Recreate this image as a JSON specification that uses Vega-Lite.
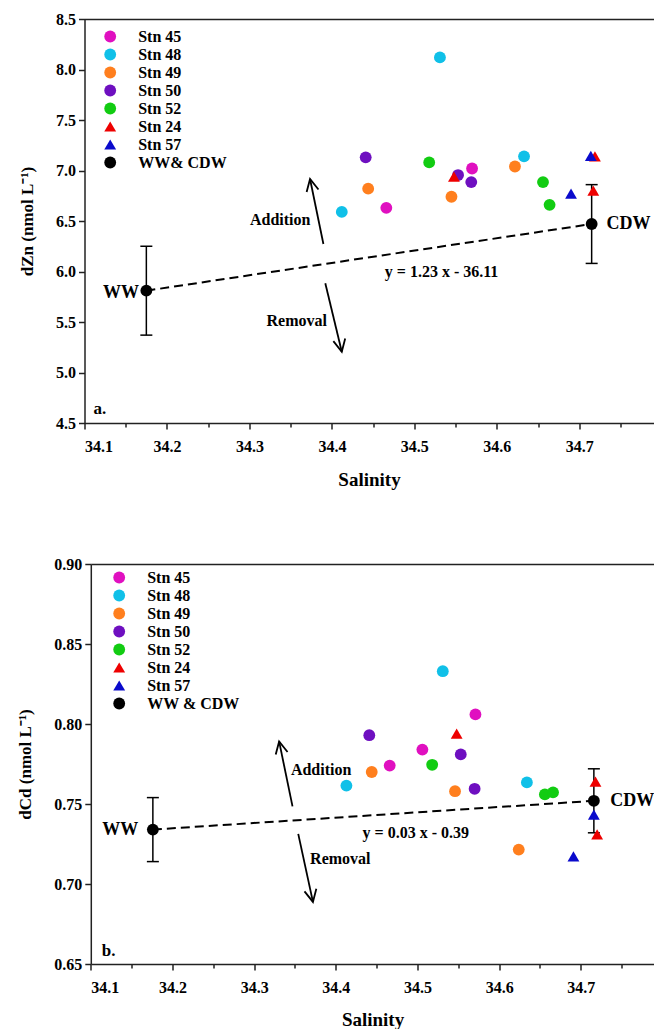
{
  "$schema": "https://vega.github.io/schema/vega-lite/v6.json",
  "background": "white",
  "padding": {"left": 15.5, "top": 11, "right": 0, "bottom": 0},
  "spacing": 67,
  "datasets": {
    "zn": [
      {"stn": "Stn 45", "sal": 34.466, "val": 6.63},
      {"stn": "Stn 45", "sal": 34.570, "val": 7.02},
      {"stn": "Stn 48", "sal": 34.531, "val": 8.12},
      {"stn": "Stn 48", "sal": 34.412, "val": 6.59},
      {"stn": "Stn 48", "sal": 34.633, "val": 7.14},
      {"stn": "Stn 49", "sal": 34.444, "val": 6.82},
      {"stn": "Stn 49", "sal": 34.545, "val": 6.74},
      {"stn": "Stn 49", "sal": 34.622, "val": 7.04},
      {"stn": "Stn 50", "sal": 34.441, "val": 7.13},
      {"stn": "Stn 50", "sal": 34.553, "val": 6.955},
      {"stn": "Stn 50", "sal": 34.569, "val": 6.885},
      {"stn": "Stn 52", "sal": 34.518, "val": 7.08},
      {"stn": "Stn 52", "sal": 34.656, "val": 6.885},
      {"stn": "Stn 52", "sal": 34.664, "val": 6.66},
      {"stn": "Stn 24", "sal": 34.548, "val": 6.94},
      {"stn": "Stn 24", "sal": 34.719, "val": 7.14},
      {"stn": "Stn 24", "sal": 34.717, "val": 6.80},
      {"stn": "Stn 57", "sal": 34.690, "val": 6.77},
      {"stn": "Stn 57", "sal": 34.714, "val": 7.145},
      {"stn": "WW& CDW", "water": "WW", "sal": 34.175, "val": 5.81, "lo": 5.37, "hi": 6.25},
      {"stn": "WW& CDW", "water": "CDW", "sal": 34.715, "val": 6.47, "lo": 6.08, "hi": 6.86}
    ],
    "zn_notes": [
      {"role": "arrow", "dir": "up", "sal": 34.3897, "val": 6.272, "sal2": 34.3735, "val2": 6.916},
      {"role": "arrow", "dir": "down", "sal": 34.392, "val": 5.883, "sal2": 34.412, "val2": 5.206},
      {"role": "addition", "label": "Addition", "sal": 34.374, "val": 6.51},
      {"role": "removal", "label": "Removal", "sal": 34.394, "val": 5.51},
      {"role": "equation", "label": "y = 1.23 x - 36.11", "sal": 34.533, "val": 6.0},
      {"role": "ww", "label": "WW", "sal": 34.166, "val": 5.79},
      {"role": "cdw", "label": "CDW", "sal": 34.733, "val": 6.47},
      {"role": "panel", "label": "a.", "sal": 34.111, "val": 4.636}
    ],
    "cd": [
      {"stn": "Stn 45", "sal": 34.571, "val": 0.806},
      {"stn": "Stn 45", "sal": 34.506, "val": 0.784},
      {"stn": "Stn 45", "sal": 34.466, "val": 0.774},
      {"stn": "Stn 48", "sal": 34.531, "val": 0.833},
      {"stn": "Stn 48", "sal": 34.413, "val": 0.7615},
      {"stn": "Stn 48", "sal": 34.634, "val": 0.7635},
      {"stn": "Stn 49", "sal": 34.444, "val": 0.770},
      {"stn": "Stn 49", "sal": 34.546, "val": 0.758},
      {"stn": "Stn 49", "sal": 34.624, "val": 0.7215},
      {"stn": "Stn 50", "sal": 34.441, "val": 0.793},
      {"stn": "Stn 50", "sal": 34.553, "val": 0.781},
      {"stn": "Stn 50", "sal": 34.570, "val": 0.7595},
      {"stn": "Stn 52", "sal": 34.518, "val": 0.7745},
      {"stn": "Stn 52", "sal": 34.656, "val": 0.756},
      {"stn": "Stn 52", "sal": 34.666, "val": 0.7573},
      {"stn": "Stn 24", "sal": 34.548, "val": 0.794},
      {"stn": "Stn 24", "sal": 34.718, "val": 0.764},
      {"stn": "Stn 24", "sal": 34.720, "val": 0.731},
      {"stn": "Stn 57", "sal": 34.691, "val": 0.7173},
      {"stn": "Stn 57", "sal": 34.716, "val": 0.7433},
      {"stn": "WW & CDW", "water": "WW", "sal": 34.176, "val": 0.734, "lo": 0.714, "hi": 0.754},
      {"stn": "WW & CDW", "water": "CDW", "sal": 34.716, "val": 0.752, "lo": 0.732, "hi": 0.772}
    ],
    "cd_notes": [
      {"role": "arrow", "dir": "up", "sal": 34.347, "val": 0.7485, "sal2": 34.3306, "val2": 0.7891},
      {"role": "arrow", "dir": "down", "sal": 34.354, "val": 0.7313, "sal2": 34.372, "val2": 0.6888},
      {"role": "addition", "label": "Addition", "sal": 34.345, "val": 0.771},
      {"role": "removal", "label": "Removal", "sal": 34.3685, "val": 0.7156},
      {"role": "equation", "label": "y = 0.03 x - 0.39", "sal": 34.498, "val": 0.7319},
      {"role": "ww", "label": "WW", "sal": 34.158, "val": 0.7335},
      {"role": "cdw", "label": "CDW", "sal": 34.736, "val": 0.7516},
      {"role": "panel", "label": "b.", "sal": 34.1135, "val": 0.6579}
    ]
  },
  "vconcat": [
    {
      "width": 569,
      "height": 404,
      "layer": [
        {
          "data": {"name": "zn"},
          "transform": [{"filter": "isValid(datum.lo)"}],
          "mark": {"type": "line", "strokeDash": [9, 5], "strokeWidth": 2, "color": "black"},
          "encoding": {
            "x": {"field": "sal", "type": "quantitative", "scale": {"domain": [34.1, 34.79], "nice": false, "zero": false},
                  "axis": {"orient": "bottom", "values": [34.15, 34.25, 34.35, 34.45, 34.55, 34.65, 34.75], "labels": false, "domain": false, "tickSize": 4, "title": null}},
            "y": {"field": "val", "type": "quantitative", "scale": {"domain": [4.5, 8.5], "nice": false, "zero": false}, "axis": null}
          }
        },
        {
          "data": {"name": "zn"},
          "transform": [{"filter": "isValid(datum.lo)"}],
          "mark": {"type": "rule", "strokeWidth": 1.5, "color": "black"},
          "encoding": {
            "x": {"field": "sal", "type": "quantitative", "axis": {"orient": "top", "labels": false, "ticks": false, "title": null}},
            "y": {"field": "lo", "type": "quantitative", "axis": null},
            "y2": {"field": "hi"}
          }
        },
        {
          "data": {"name": "zn"},
          "transform": [{"filter": "isValid(datum.lo)"}],
          "mark": {"type": "point", "shape": "M-1,0L1,0", "filled": false, "size": 144, "strokeWidth": 1.5, "color": "black", "opacity": 1},
          "encoding": {
            "x": {"field": "sal", "type": "quantitative", "axis": null},
            "y": {"field": "lo", "type": "quantitative", "axis": null}
          }
        },
        {
          "data": {"name": "zn"},
          "transform": [{"filter": "isValid(datum.lo)"}],
          "mark": {"type": "point", "shape": "M-1,0L1,0", "filled": false, "size": 144, "strokeWidth": 1.5, "color": "black", "opacity": 1},
          "encoding": {
            "x": {"field": "sal", "type": "quantitative", "axis": null},
            "y": {"field": "hi", "type": "quantitative", "axis": null}
          }
        },
        {
          "data": {"name": "zn_notes"},
          "transform": [{"filter": "datum.role === 'arrow'"}],
          "mark": {"type": "rule", "strokeWidth": 1.8, "color": "black"},
          "encoding": {
            "x": {"field": "sal", "type": "quantitative", "axis": null},
            "y": {"field": "val", "type": "quantitative", "axis": null},
            "x2": {"field": "sal2"},
            "y2": {"field": "val2"}
          }
        },
        {
          "data": {"name": "zn_notes"},
          "transform": [{"filter": "datum.dir === 'up'"}],
          "mark": {"type": "point", "shape": "M-0.55,1.1L0,0L0.55,1.1", "filled": false, "size": 484, "strokeWidth": 1.8, "color": "black", "opacity": 1, "angle": -12},
          "encoding": {
            "x": {"field": "sal2", "type": "quantitative", "axis": null},
            "y": {"field": "val2", "type": "quantitative", "axis": null}
          }
        },
        {
          "data": {"name": "zn_notes"},
          "transform": [{"filter": "datum.dir === 'down'"}],
          "mark": {"type": "point", "shape": "M-0.55,1.1L0,0L0.55,1.1", "filled": false, "size": 484, "strokeWidth": 1.8, "color": "black", "opacity": 1, "angle": 168},
          "encoding": {
            "x": {"field": "sal2", "type": "quantitative", "axis": null},
            "y": {"field": "val2", "type": "quantitative", "axis": null}
          }
        },
        {
          "data": {"name": "zn_notes"},
          "transform": [{"filter": "datum.role === 'addition' || datum.role === 'removal'"}],
          "mark": {"type": "text", "align": "right", "baseline": "middle", "fontSize": 16},
          "encoding": {
            "x": {"field": "sal", "type": "quantitative", "axis": null},
            "y": {"field": "val", "type": "quantitative", "axis": null},
            "text": {"field": "label"}
          }
        },
        {
          "data": {"name": "zn_notes"},
          "transform": [{"filter": "datum.role === 'equation'"}],
          "mark": {"type": "text", "align": "center", "baseline": "middle", "fontSize": 16},
          "encoding": {
            "x": {"field": "sal", "type": "quantitative", "axis": null},
            "y": {"field": "val", "type": "quantitative", "axis": null},
            "text": {"field": "label"}
          }
        },
        {
          "data": {"name": "zn_notes"},
          "transform": [{"filter": "datum.role === 'ww'"}],
          "mark": {"type": "text", "align": "right", "baseline": "middle", "fontSize": 18},
          "encoding": {
            "x": {"field": "sal", "type": "quantitative", "axis": null},
            "y": {"field": "val", "type": "quantitative", "axis": null},
            "text": {"field": "label"}
          }
        },
        {
          "data": {"name": "zn_notes"},
          "transform": [{"filter": "datum.role === 'cdw'"}],
          "mark": {"type": "text", "align": "left", "baseline": "middle", "fontSize": 18},
          "encoding": {
            "x": {"field": "sal", "type": "quantitative", "axis": null},
            "y": {"field": "val", "type": "quantitative", "axis": null},
            "text": {"field": "label"}
          }
        },
        {
          "data": {"name": "zn_notes"},
          "transform": [{"filter": "datum.role === 'panel'"}],
          "mark": {"type": "text", "align": "left", "baseline": "middle", "fontSize": 17},
          "encoding": {
            "x": {"field": "sal", "type": "quantitative", "axis": null},
            "y": {"field": "val", "type": "quantitative", "axis": null},
            "text": {"field": "label"}
          }
        },
        {
          "data": {"name": "zn"},
          "mark": {"type": "point", "filled": true, "opacity": 1, "strokeWidth": 0},
          "encoding": {
            "x": {"field": "sal", "type": "quantitative",
                  "axis": {"orient": "bottom", "values": [34.1, 34.2, 34.3, 34.4, 34.5, 34.6, 34.7], "format": ".1f", "tickSize": 6, "labelPadding": 9, "title": "Salinity", "titleFontSize": 19, "titlePadding": 16}},
            "y": {"field": "val", "type": "quantitative",
                  "axis": {"values": [4.5, 5.0, 5.5, 6.0, 6.5, 7.0, 7.5, 8.0, 8.5], "format": ".1f", "tickSize": 6, "labelPadding": 3, "title": "dZn (nmol L⁻¹)", "titleFontSize": 17, "titlePadding": 19}},
            "color": {"field": "stn", "type": "nominal",
                      "scale": {"domain": ["Stn 45", "Stn 48", "Stn 49", "Stn 50", "Stn 52", "Stn 24", "Stn 57", "WW& CDW"],
                                "range": ["#E010C0", "#10C0E8", "#FF7F1E", "#6E0FC0", "#12CC12", "#EE0000", "#0A0ACC", "#000000"]},
                      "legend": {"orient": "none", "legendX": 17.7, "legendY": 9.5, "title": null}},
            "shape": {"field": "stn", "type": "nominal",
                      "scale": {"domain": ["Stn 45", "Stn 48", "Stn 49", "Stn 50", "Stn 52", "Stn 24", "Stn 57", "WW& CDW"],
                                "range": ["circle", "circle", "circle", "circle", "circle", "triangle-up", "triangle-up", "circle"]},
                      "legend": {"orient": "none", "legendX": 17.7, "legendY": 9.5, "title": null}},
            "size": {"field": "stn", "type": "nominal",
                     "scale": {"domain": ["Stn 45", "Stn 48", "Stn 49", "Stn 50", "Stn 52", "Stn 24", "Stn 57", "WW& CDW"],
                               "range": [140, 140, 140, 140, 140, 170, 170, 85]},
                     "legend": {"orient": "none", "legendX": 17.7, "legendY": 9.5, "title": null}}
          }
        }
      ],
      "resolve": {"axis": {"x": "independent", "y": "independent"}}
    },
    {
      "width": 569.8,
      "height": 400,
      "layer": [
        {
          "data": {"name": "cd"},
          "transform": [{"filter": "isValid(datum.lo)"}],
          "mark": {"type": "line", "strokeDash": [9, 5], "strokeWidth": 2, "color": "black"},
          "encoding": {
            "x": {"field": "sal", "type": "quantitative", "scale": {"domain": [34.1, 34.79], "range": [6.3, 569.8], "nice": false, "zero": false},
                  "axis": {"orient": "bottom", "values": [34.15, 34.25, 34.35, 34.45, 34.55, 34.65, 34.75], "labels": false, "domain": false, "tickSize": 4, "title": null}},
            "y": {"field": "val", "type": "quantitative", "scale": {"domain": [0.65, 0.9], "nice": false, "zero": false}, "axis": null}
          }
        },
        {
          "data": {"name": "cd"},
          "transform": [{"filter": "isValid(datum.lo)"}],
          "mark": {"type": "rule", "strokeWidth": 1.5, "color": "black"},
          "encoding": {
            "x": {"field": "sal", "type": "quantitative", "axis": {"orient": "top", "labels": false, "ticks": false, "title": null}},
            "y": {"field": "lo", "type": "quantitative", "axis": null},
            "y2": {"field": "hi"}
          }
        },
        {
          "data": {"name": "cd"},
          "transform": [{"filter": "isValid(datum.lo)"}],
          "mark": {"type": "point", "shape": "M-1,0L1,0", "filled": false, "size": 144, "strokeWidth": 1.5, "color": "black", "opacity": 1},
          "encoding": {
            "x": {"field": "sal", "type": "quantitative", "axis": null},
            "y": {"field": "lo", "type": "quantitative", "axis": null}
          }
        },
        {
          "data": {"name": "cd"},
          "transform": [{"filter": "isValid(datum.lo)"}],
          "mark": {"type": "point", "shape": "M-1,0L1,0", "filled": false, "size": 144, "strokeWidth": 1.5, "color": "black", "opacity": 1},
          "encoding": {
            "x": {"field": "sal", "type": "quantitative", "axis": null},
            "y": {"field": "hi", "type": "quantitative", "axis": null}
          }
        },
        {
          "data": {"name": "cd_notes"},
          "transform": [{"filter": "datum.role === 'arrow'"}],
          "mark": {"type": "rule", "strokeWidth": 1.8, "color": "black"},
          "encoding": {
            "x": {"field": "sal", "type": "quantitative", "axis": null},
            "y": {"field": "val", "type": "quantitative", "axis": null},
            "x2": {"field": "sal2"},
            "y2": {"field": "val2"}
          }
        },
        {
          "data": {"name": "cd_notes"},
          "transform": [{"filter": "datum.dir === 'up'"}],
          "mark": {"type": "point", "shape": "M-0.55,1.1L0,0L0.55,1.1", "filled": false, "size": 484, "strokeWidth": 1.8, "color": "black", "opacity": 1, "angle": -12},
          "encoding": {
            "x": {"field": "sal2", "type": "quantitative", "axis": null},
            "y": {"field": "val2", "type": "quantitative", "axis": null}
          }
        },
        {
          "data": {"name": "cd_notes"},
          "transform": [{"filter": "datum.dir === 'down'"}],
          "mark": {"type": "point", "shape": "M-0.55,1.1L0,0L0.55,1.1", "filled": false, "size": 484, "strokeWidth": 1.8, "color": "black", "opacity": 1, "angle": 168},
          "encoding": {
            "x": {"field": "sal2", "type": "quantitative", "axis": null},
            "y": {"field": "val2", "type": "quantitative", "axis": null}
          }
        },
        {
          "data": {"name": "cd_notes"},
          "transform": [{"filter": "datum.role === 'addition' || datum.role === 'removal'"}],
          "mark": {"type": "text", "align": "left", "baseline": "middle", "fontSize": 16},
          "encoding": {
            "x": {"field": "sal", "type": "quantitative", "axis": null},
            "y": {"field": "val", "type": "quantitative", "axis": null},
            "text": {"field": "label"}
          }
        },
        {
          "data": {"name": "cd_notes"},
          "transform": [{"filter": "datum.role === 'equation'"}],
          "mark": {"type": "text", "align": "center", "baseline": "middle", "fontSize": 16},
          "encoding": {
            "x": {"field": "sal", "type": "quantitative", "axis": null},
            "y": {"field": "val", "type": "quantitative", "axis": null},
            "text": {"field": "label"}
          }
        },
        {
          "data": {"name": "cd_notes"},
          "transform": [{"filter": "datum.role === 'ww'"}],
          "mark": {"type": "text", "align": "right", "baseline": "middle", "fontSize": 18},
          "encoding": {
            "x": {"field": "sal", "type": "quantitative", "axis": null},
            "y": {"field": "val", "type": "quantitative", "axis": null},
            "text": {"field": "label"}
          }
        },
        {
          "data": {"name": "cd_notes"},
          "transform": [{"filter": "datum.role === 'cdw'"}],
          "mark": {"type": "text", "align": "left", "baseline": "middle", "fontSize": 18},
          "encoding": {
            "x": {"field": "sal", "type": "quantitative", "axis": null},
            "y": {"field": "val", "type": "quantitative", "axis": null},
            "text": {"field": "label"}
          }
        },
        {
          "data": {"name": "cd_notes"},
          "transform": [{"filter": "datum.role === 'panel'"}],
          "mark": {"type": "text", "align": "left", "baseline": "middle", "fontSize": 17},
          "encoding": {
            "x": {"field": "sal", "type": "quantitative", "axis": null},
            "y": {"field": "val", "type": "quantitative", "axis": null},
            "text": {"field": "label"}
          }
        },
        {
          "data": {"name": "cd"},
          "mark": {"type": "point", "filled": true, "opacity": 1, "strokeWidth": 0},
          "encoding": {
            "x": {"field": "sal", "type": "quantitative",
                  "axis": {"orient": "bottom", "values": [34.1, 34.2, 34.3, 34.4, 34.5, 34.6, 34.7], "format": ".1f", "tickSize": 6, "labelPadding": 9, "title": "Salinity", "titleFontSize": 19, "titlePadding": 15}},
            "y": {"field": "val", "type": "quantitative",
                  "axis": {"values": [0.65, 0.7, 0.75, 0.8, 0.85, 0.9], "format": ".2f", "tickSize": 6, "labelPadding": 3, "offset": -6.3, "title": "dCd (nmol L⁻¹)", "titleFontSize": 17, "titlePadding": 19.5}},
            "color": {"field": "stn", "type": "nominal",
                      "scale": {"domain": ["Stn 45", "Stn 48", "Stn 49", "Stn 50", "Stn 52", "Stn 24", "Stn 57", "WW & CDW"],
                                "range": ["#E010C0", "#10C0E8", "#FF7F1E", "#6E0FC0", "#12CC12", "#EE0000", "#0A0ACC", "#000000"]},
                      "legend": {"orient": "none", "legendX": 26.7, "legendY": 5.5, "title": null}},
            "shape": {"field": "stn", "type": "nominal",
                      "scale": {"domain": ["Stn 45", "Stn 48", "Stn 49", "Stn 50", "Stn 52", "Stn 24", "Stn 57", "WW & CDW"],
                                "range": ["circle", "circle", "circle", "circle", "circle", "triangle-up", "triangle-up", "circle"]},
                      "legend": {"orient": "none", "legendX": 26.7, "legendY": 5.5, "title": null}},
            "size": {"field": "stn", "type": "nominal",
                     "scale": {"domain": ["Stn 45", "Stn 48", "Stn 49", "Stn 50", "Stn 52", "Stn 24", "Stn 57", "WW & CDW"],
                               "range": [140, 140, 140, 140, 140, 170, 170, 85]},
                     "legend": {"orient": "none", "legendX": 26.7, "legendY": 5.5, "title": null}}
          }
        }
      ],
      "resolve": {"axis": {"x": "independent", "y": "independent"}}
    }
  ],
  "resolve": {"scale": {"color": "independent", "shape": "independent", "size": "independent"}},
  "config": {
    "font": "Liberation Serif",
    "view": {"stroke": null},
    "axis": {
      "grid": false,
      "labelFont": "Liberation Serif",
      "labelFontWeight": "bold",
      "labelFontSize": 16,
      "labelColor": "black",
      "titleFont": "Liberation Serif",
      "titleFontWeight": "bold",
      "titleColor": "black",
      "domainColor": "#222222",
      "domainWidth": 1.5,
      "tickColor": "#222222",
      "tickWidth": 1.5
    },
    "legend": {
      "labelFont": "Liberation Serif",
      "labelFontWeight": "bold",
      "labelFontSize": 16,
      "labelColor": "black",
      "symbolStrokeWidth": 0,
      "rowPadding": 2,
      "labelOffset": 20,
      "padding": 0
    },
    "text": {"font": "Liberation Serif", "fontWeight": "bold", "color": "black"}
  }
}
